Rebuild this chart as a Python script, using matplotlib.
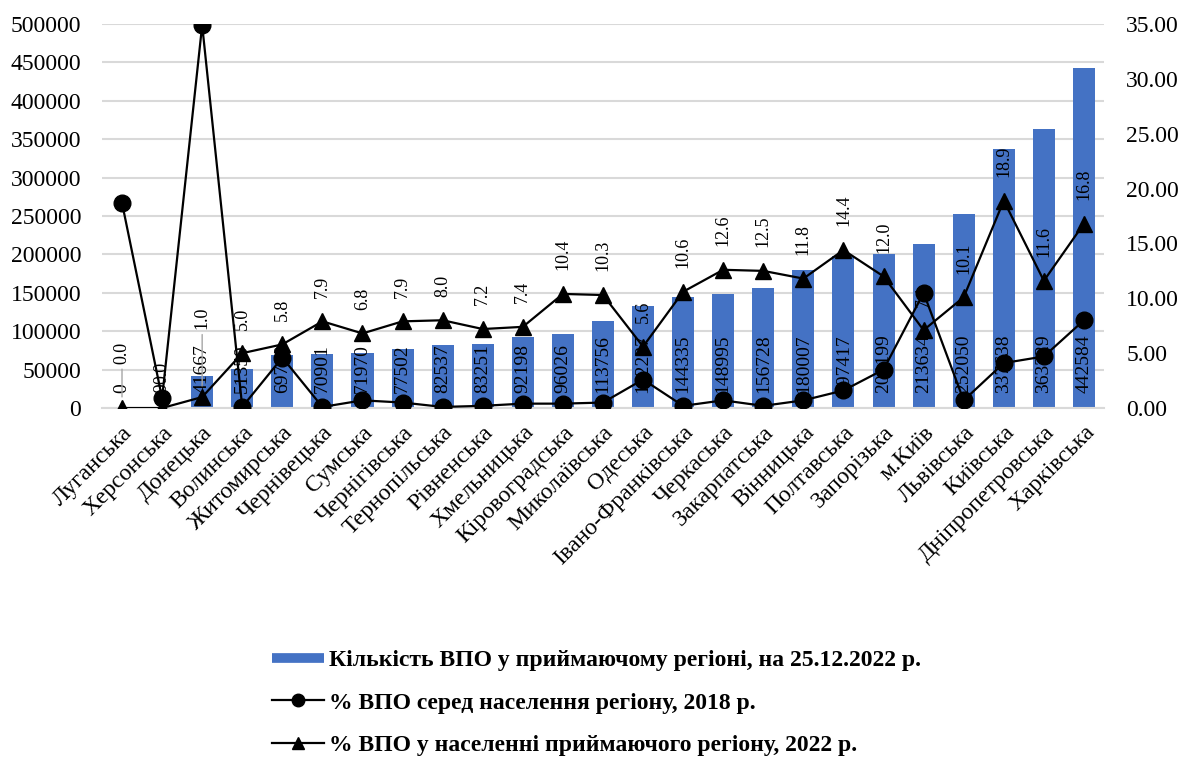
import matplotlib.pyplot as plt
from matplotlib.lines import Line2D
import numpy as np

plt.rcParams['font.family'] = ['Liberation Serif', 'DejaVu Serif']

regions = ['Луганська', 'Херсонська', 'Донецька', 'Волинська', 'Житомирська',
           'Чернівецька', 'Сумська', 'Чернігівська', 'Тернопільська', 'Рівненська',
           'Хмельницька', 'Кіровоградська', 'Миколаївська', 'Одеська',
           'Івано-Франківська', 'Черкаська', 'Закарпатська', 'Вінницька',
           'Полтавська', 'Запорізька', 'м.Київ', 'Львівська', 'Київська',
           'Дніпропетровська', 'Харківська']

idp_count = [0, 0, 41667, 51350, 69700, 70901, 71970, 77502, 82537, 83251,
             92198, 96026, 113756, 132237, 144335, 148995, 156728, 180007,
             197417, 200199, 213634, 252050, 337638, 363329, 442584]

pct_2018 = [18.7, 0.9, 34.9, 0.1, 4.6, 0.1, 0.7, 0.5, 0.1, 0.2, 0.4, 0.4,
            0.5, 2.6, 0.2, 0.7, 0.2, 0.7, 1.6, 3.5, 10.5, 0.7, 4.1, 4.7, 8.0]

pct_2022 = [0.0, 0.0, 1.0, 5.0, 5.8, 7.9, 6.8, 7.9, 8.0, 7.2, 7.4, 10.4,
            10.3, 5.6, 10.6, 12.6, 12.5, 11.8, 14.4, 12.0, 7.1, 10.1, 18.9,
            11.6, 16.8]

x = np.arange(len(regions))

fig = plt.figure(figsize=(11.94, 7.58), dpi=100)
ax = fig.add_axes([0.0854, 0.4617, 0.8392, 0.5066])
ax2 = ax.twinx()

ax.bar(x, idp_count, width=0.55, color='#4472C4')
for i, v in enumerate(idp_count):
    ax.annotate(str(v), (i, 0), xytext=(0, 11), textcoords='offset points',
                rotation=90, ha='center', va='bottom', fontsize=14)

ax.set_ylim(0, 500000)
ax.set_yticks(np.arange(0, 500001, 50000))
ax.set_xlim(-0.5, len(regions) - 0.5)
ax.grid(axis='y', color='#d9d9d9', linewidth=1.5)
ax.set_axisbelow(True)
for s in ax.spines.values():
    s.set_visible(False)
for s in ax2.spines.values():
    s.set_visible(False)
ax.spines['bottom'].set_visible(True)
ax.spines['bottom'].set_color('#d9d9d9')
ax.spines['bottom'].set_linewidth(1.5)

ax.set_xticks(x)
ax.set_xticklabels(regions, rotation=45, ha='right', rotation_mode='anchor',
                   fontsize=17)
ax.tick_params(axis='x', length=0, pad=10)
ax.tick_params(axis='y', length=0, labelsize=17, pad=15)

ax2.plot(x, pct_2018, color='black', linewidth=1.6, marker='o', markersize=12)
ax2.plot(x, pct_2022, color='black', linewidth=1.6, marker='^', markersize=12)
ax2.set_ylim(0, 35)
ax2.set_yticks(np.arange(0, 35.1, 5))
ax2.set_yticklabels(['%.2f' % t for t in np.arange(0, 35.1, 5)])
ax2.tick_params(axis='y', length=0, labelsize=17, pad=16)

# labels for the 2022 line, two of them pulled up with a leader line
lifted = {0: 32, 2: 49}
for i, v in enumerate(pct_2022):
    if i in lifted:
        ax2.annotate('%.1f' % v, (i, v), xytext=(0, lifted[i]), textcoords='offset points',
                     rotation=90, ha='center', va='bottom', fontsize=13,
                     arrowprops=dict(arrowstyle='-', color='#a6a6a6', lw=1,
                                     shrinkA=2, shrinkB=8))
    else:
        ax2.annotate('%.1f' % v, (i, v), xytext=(0, 17), textcoords='offset points',
                     rotation=90, ha='center', va='bottom', fontsize=13)

h_bar = Line2D([], [], color='#4472C4', lw=7, solid_capstyle='butt')
h_c = Line2D([], [], color='black', lw=1.6, marker='o', markersize=9)
h_t = Line2D([], [], color='black', lw=1.6, marker='^', markersize=9)
fig.legend(handles=[h_bar, h_c, h_t],
           labels=['Кількість ВПО у приймаючому регіоні, на 25.12.2022 р.',
                   '% ВПО серед населення регіону, 2018 р.',
                   '% ВПО у населенні приймаючого регіону, 2022 р.'],
           loc='upper left', bbox_to_anchor=(251 / 1194, 1 - 628 / 758),
           frameon=False, prop={'weight': 'bold', 'size': 17},
           labelspacing=0.9, handlelength=2.2, handletextpad=0.2)

fig.savefig('out.png', dpi=100)
